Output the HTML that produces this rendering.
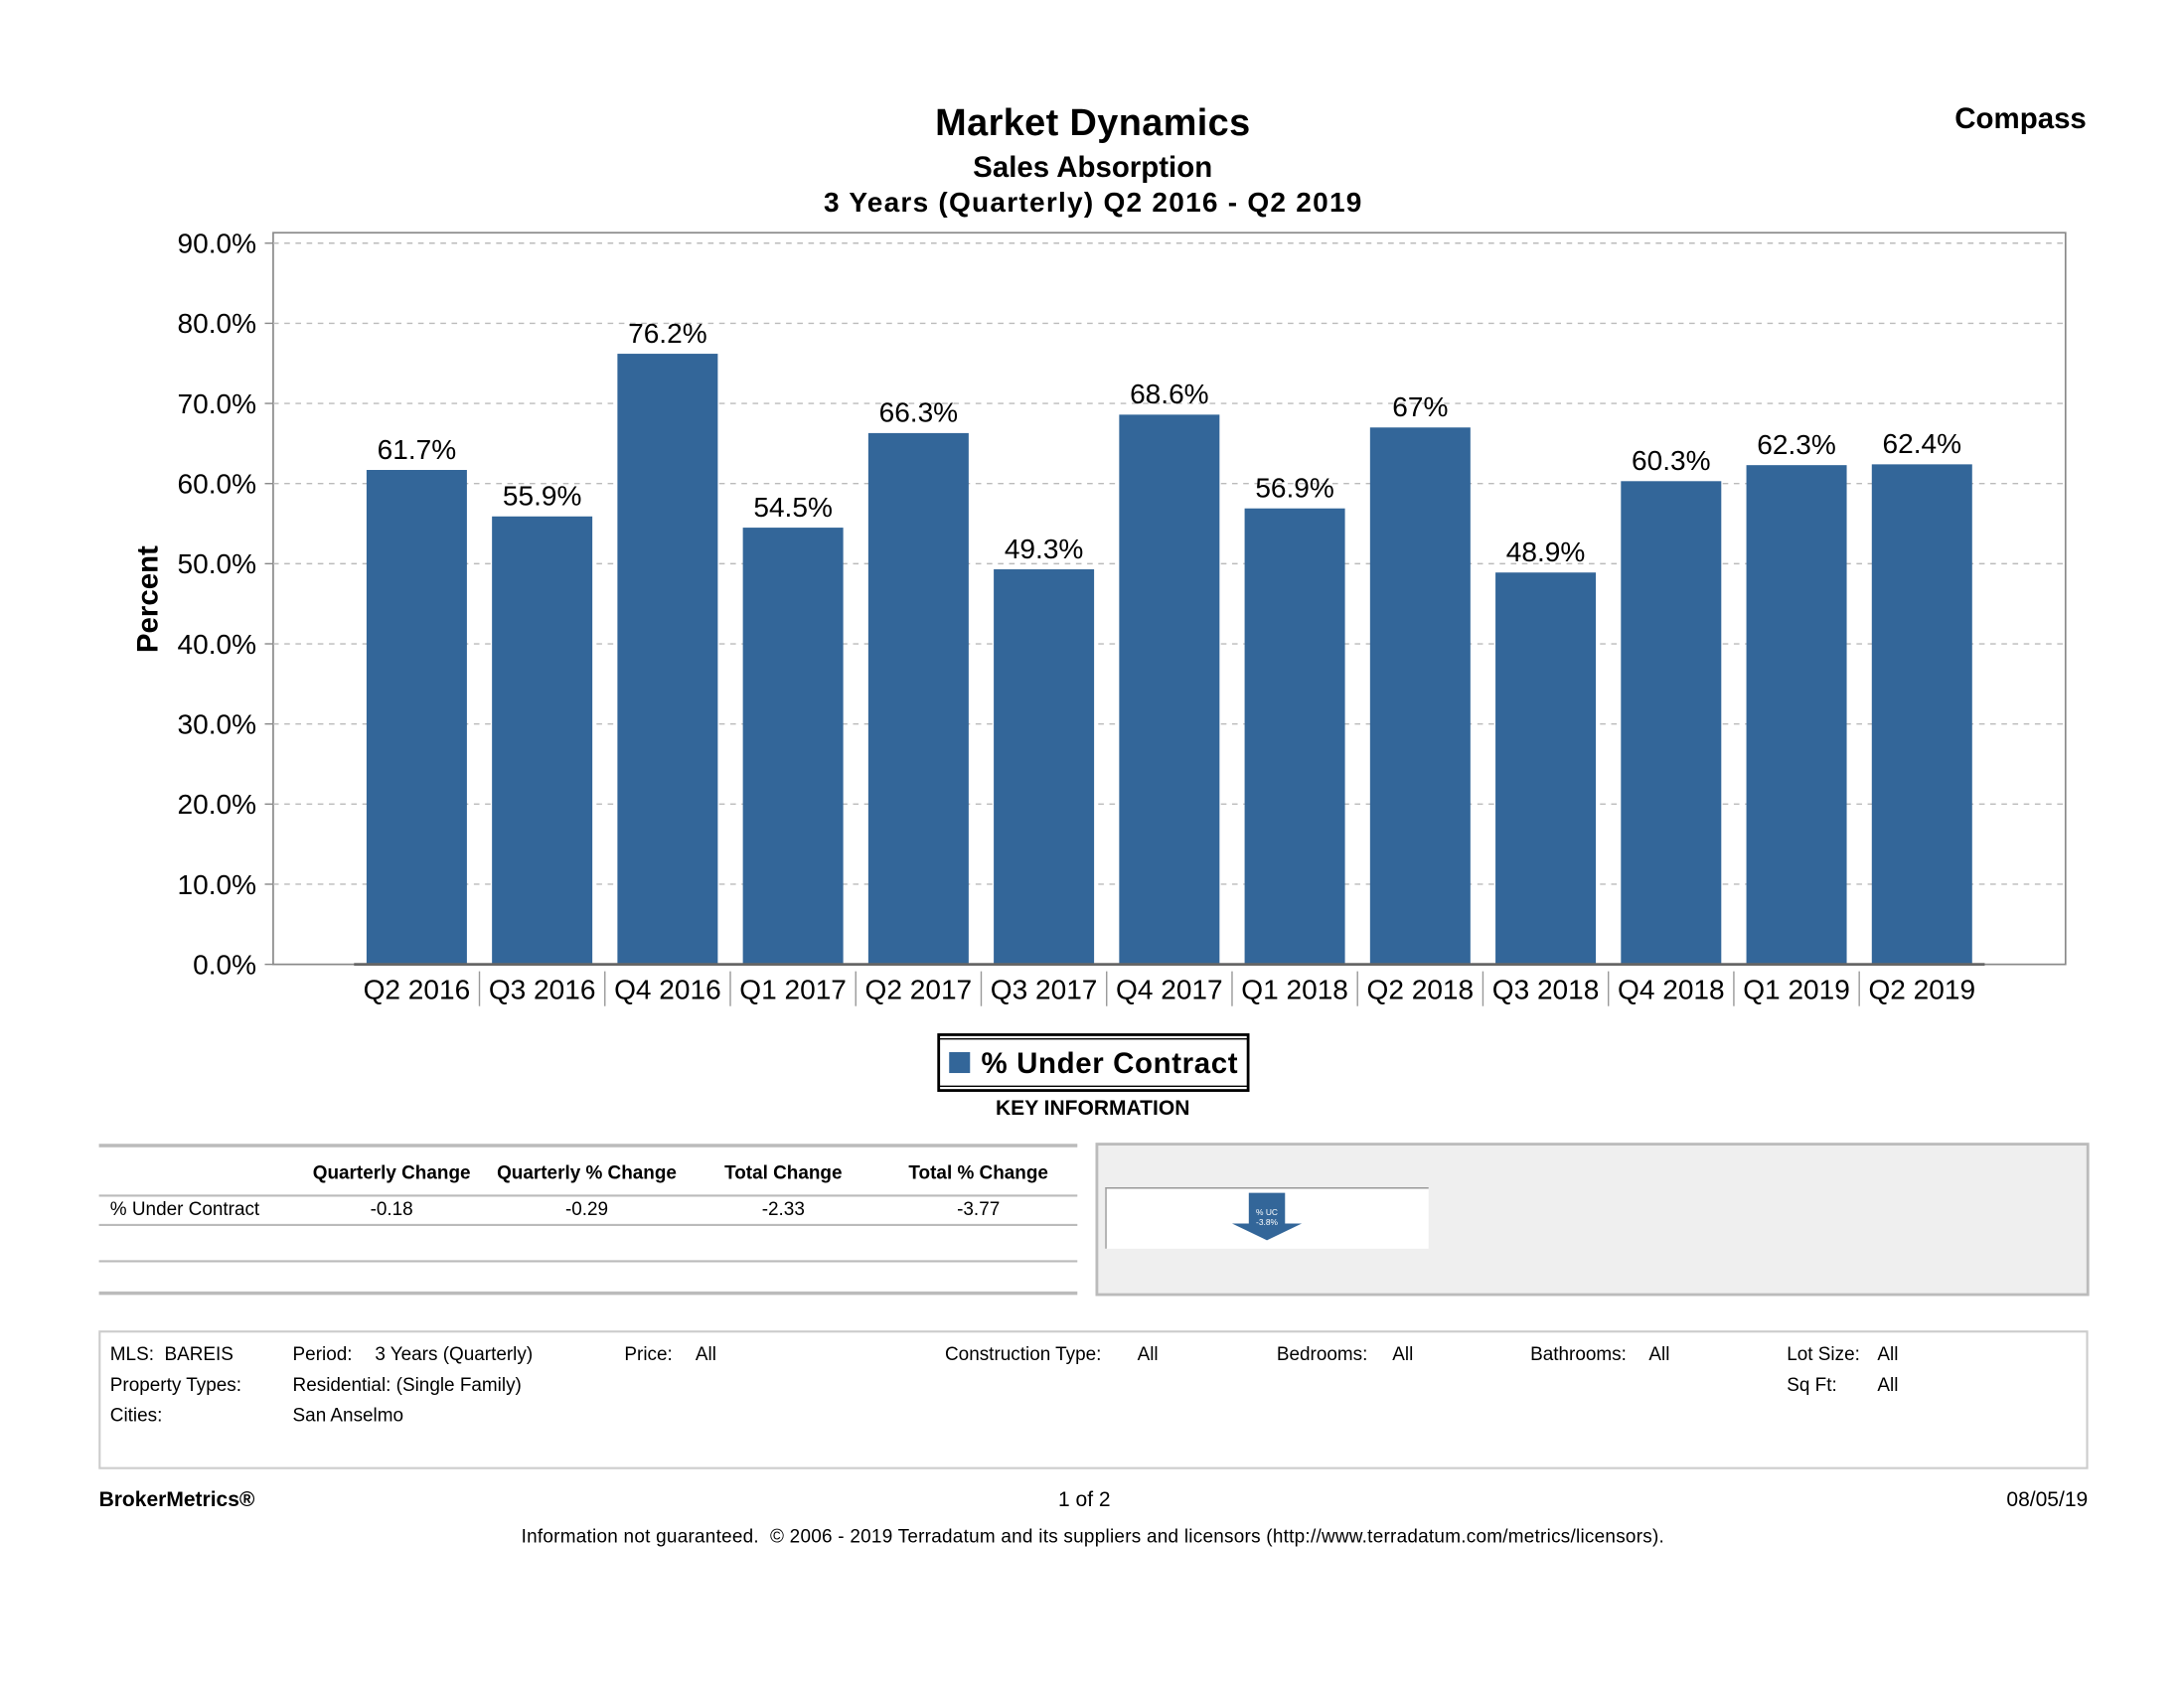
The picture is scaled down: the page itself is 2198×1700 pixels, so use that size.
<!DOCTYPE html>
<html><head><meta charset="utf-8"><style>
html,body{margin:0;padding:0;background:#fff;}
svg{display:block;font-family:"Liberation Sans",Arial,sans-serif;}
text{white-space:pre;}
</style></head><body>
<svg id="chart" width="2198" height="1700" viewBox="0 0 1567 1212" preserveAspectRatio="none" xmlns="http://www.w3.org/2000/svg">
<text x="784" y="97" text-anchor="middle" font-size="27" font-weight="bold" textLength="226">Market Dynamics</text>
<text x="784" y="127" text-anchor="middle" font-size="21" font-weight="bold">Sales Absorption</text>
<text x="784" y="152" text-anchor="middle" font-size="20" font-weight="bold" textLength="386">3 Years (Quarterly) Q2 2016 - Q2 2019</text>
<text x="1497" y="92" text-anchor="end" font-size="21" font-weight="bold">Compass</text>
<rect x="196" y="167" width="1286" height="525" fill="#fff" stroke="#888" stroke-width="1.2"/>
<g id="grid"></g>
<g id="bars"></g>
<g id="xlabels"></g>
<text transform="translate(113,430) rotate(-90)" text-anchor="middle" font-size="21" font-weight="bold">Percent</text>

<g>
<rect x="673.5" y="742.5" width="222" height="40" fill="#fff" stroke="#000" stroke-width="2"/>
<line x1="673.5" y1="745.5" x2="895.5" y2="745.5" stroke="#000" stroke-width="1"/>
<line x1="673.5" y1="779.5" x2="895.5" y2="779.5" stroke="#000" stroke-width="1"/>
<rect x="681" y="755" width="15" height="15" fill="#336699"/>
<text x="704" y="770" font-size="21" font-weight="bold" textLength="184">% Under Contract</text>
</g>
<text x="784" y="800" text-anchor="middle" font-size="15" font-weight="bold">KEY INFORMATION</text>

<g font-size="13.5">
<line x1="71" y1="822" x2="773" y2="822" stroke="#bbb" stroke-width="2.5"/>
<text x="281" y="846" text-anchor="middle" font-weight="bold">Quarterly Change</text>
<text x="421" y="846" text-anchor="middle" font-weight="bold">Quarterly % Change</text>
<text x="562" y="846" text-anchor="middle" font-weight="bold">Total Change</text>
<text x="702" y="846" text-anchor="middle" font-weight="bold">Total % Change</text>
<line x1="71" y1="858" x2="773" y2="858" stroke="#bbb" stroke-width="1.5"/>
<text x="79" y="872">% Under Contract</text>
<text x="281" y="872" text-anchor="middle">-0.18</text>
<text x="421" y="872" text-anchor="middle">-0.29</text>
<text x="562" y="872" text-anchor="middle">-2.33</text>
<text x="702" y="872" text-anchor="middle">-3.77</text>
<line x1="71" y1="879" x2="773" y2="879" stroke="#bbb" stroke-width="1.5"/>
<line x1="71" y1="905" x2="773" y2="905" stroke="#bbb" stroke-width="1.5"/>
<line x1="71" y1="928" x2="773" y2="928" stroke="#bbb" stroke-width="2.5"/>
</g>
<g>
<rect x="787" y="821" width="711" height="108" fill="#efefef" stroke="#bbb" stroke-width="2"/>
<rect x="793" y="852" width="232" height="44" fill="#fff"/>
<line x1="793" y1="852.5" x2="1025" y2="852.5" stroke="#999" stroke-width="1"/>
<line x1="793.5" y1="852" x2="793.5" y2="896" stroke="#999" stroke-width="1"/>
<polygon points="896,856 922,856 922,878 934,878 909,890 884,878 896,878" fill="#336699"/>
<text x="909" y="872" text-anchor="middle" font-size="6" fill="#fff">% UC</text>
<text x="909" y="879" text-anchor="middle" font-size="6" fill="#fff">-3.8%</text>
</g>

<g font-size="13.5">
<rect x="71.5" y="955.5" width="1426" height="98" fill="#fff" stroke="#ccc" stroke-width="1.5"/>
<text x="79" y="976">MLS:  BAREIS</text>
<text x="210" y="976">Period:</text><text x="269" y="976">3 Years (Quarterly)</text>
<text x="448" y="976">Price:</text><text x="499" y="976">All</text>
<text x="678" y="976">Construction Type:</text><text x="816" y="976">All</text>
<text x="916" y="976">Bedrooms:</text><text x="999" y="976">All</text>
<text x="1098" y="976">Bathrooms:</text><text x="1183" y="976">All</text>
<text x="1282" y="976">Lot Size:</text><text x="1347" y="976">All</text>
<text x="79" y="998">Property Types:</text>
<text x="210" y="998">Residential: (Single Family)</text>
<text x="1282" y="998">Sq Ft:</text>
<text x="1347" y="998">All</text>
<text x="79" y="1020">Cities:</text>
<text x="210" y="1020">San Anselmo</text>
</g>
<text x="71" y="1081" font-size="15" font-weight="bold">BrokerMetrics®</text>
<text x="778" y="1081" text-anchor="middle" font-size="15">1 of 2</text>
<text x="1498" y="1081" text-anchor="end" font-size="15">08/05/19</text>
<text x="784" y="1107" text-anchor="middle" font-size="13.5" textLength="820">Information not guaranteed.  © 2006 - 2019 Terradatum and its suppliers and licensors (http://www.terradatum.com/metrics/licensors).</text>
</svg>
<script>
const categories = ["Q2 2016","Q3 2016","Q4 2016","Q1 2017","Q2 2017","Q3 2017","Q4 2017","Q1 2018","Q2 2018","Q3 2018","Q4 2018","Q1 2019","Q2 2019"];
const values = [61.7,55.9,76.2,54.5,66.3,49.3,68.6,56.9,67,48.9,60.3,62.3,62.4];
const valueLabels = ["61.7%","55.9%","76.2%","54.5%","66.3%","49.3%","68.6%","56.9%","67%","48.9%","60.3%","62.3%","62.4%"];
const yTicks = [0,10,20,30,40,50,60,70,80,90];
const yTickLabels = ["0.0%","10.0%","20.0%","30.0%","40.0%","50.0%","60.0%","70.0%","80.0%","90.0%"];

const NS = "http://www.w3.org/2000/svg";
const yMin = 0, yMax = 90, yBottom = 692, yTop = 174.5;
function yScale(v){ return yBottom - (v - yMin) / (yMax - yMin) * (yBottom - yTop); }
const bandStart = 254, bandStep = 90;
function xCenter(i){ return bandStart + bandStep * (i + 0.5); }
const barW = 72;
function mk(tag, attrs){ const e = document.createElementNS(NS, tag); for (const k in attrs) e.setAttribute(k, attrs[k]); return e; }

const grid = document.getElementById("grid");
yTicks.forEach((t, i) => {
  const y = yScale(t);
  if (t > 0) {
    const ln = mk("line", {x1:196, x2:1482, y1:y, y2:y, stroke:"#bbb", "stroke-dasharray":"4,4", "stroke-width":1});
    
    
    grid.appendChild(ln);
  }
  const tk = mk("line", {x1:190, x2:196, y1:y, y2:y, stroke:"#888", "stroke-width":1});
  
  
  grid.appendChild(tk);
  const tx = mk("text", {x:184, y:y + 7, "text-anchor":"end", "font-size":20});
  
  
  tx.textContent = yTickLabels[i];
  grid.appendChild(tx);
});

const bars = document.getElementById("bars");
values.forEach((v, i) => {
  const cx = xCenter(i), y = yScale(v);
  const r = mk("rect", {x:cx - barW/2, y:y, width:barW, height:yBottom - y, fill:"#336699"});
  
  
  bars.appendChild(r);
  const t = mk("text", {x:cx, y:y - 8, "text-anchor":"middle", "font-size":20});
  
  
  t.textContent = valueLabels[i];
  bars.appendChild(t);
});
const base = mk("line", {x1:bandStart, x2:bandStart + bandStep * categories.length, y1:yBottom, y2:yBottom, stroke:"#666", "stroke-width":2});


bars.appendChild(base);

const xl = document.getElementById("xlabels");
categories.forEach((c, i) => {
  const cx = xCenter(i);
  const t = mk("text", {x:cx, y:717, "text-anchor":"middle", "font-size":20});
  
  
  t.textContent = c;
  xl.appendChild(t);
  if (i > 0) {
    const s = mk("line", {x1:cx - bandStep/2, x2:cx - bandStep/2, y1:697, y2:722, stroke:"#999", "stroke-width":1});
    
    
    xl.appendChild(s);
  }
});
</script>
</body></html>
